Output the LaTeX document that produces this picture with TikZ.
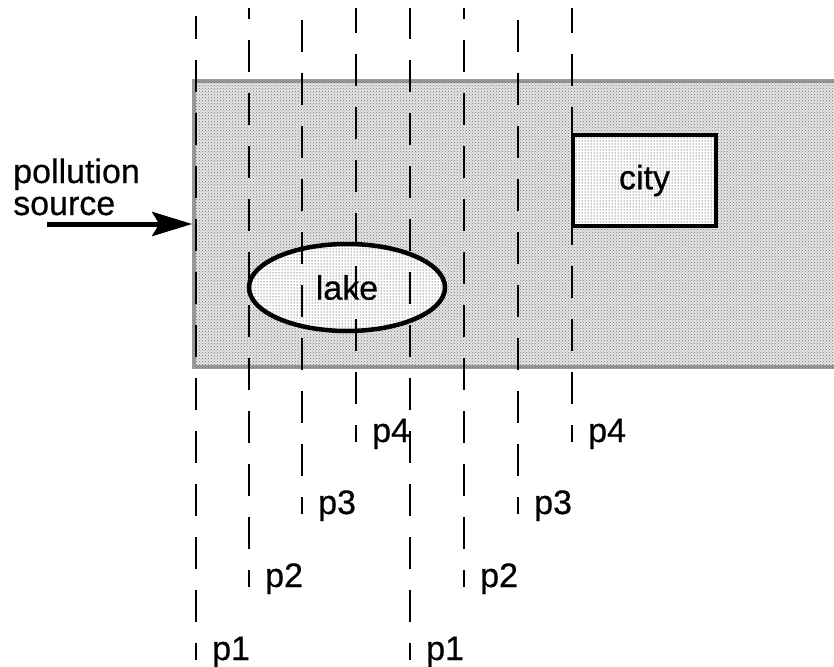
\documentclass[tikz,border=0pt]{standalone}
\usepackage{fontspec}
\setmainfont{Liberation Sans}[UprightFeatures={FakeBold=0.5}]
\usetikzlibrary{arrows.meta,shapes.geometric,patterns}
\begin{document}
\begin{tikzpicture}[x=1pt,y=-1pt,
  lbl/.style={font=\fontsize{34}{34}\selectfont, inner sep=0pt},
  probe/.style={line width=1.4pt, dash pattern=on 32pt off 21pt, dash phase=15pt},
  zone/.style={draw=black, line width=4.5pt, fill=white, font=\fontsize{34}{34}\selectfont,
    postaction={pattern=dots, pattern color=black}},
  band/.style={draw=black!40, line width=3.5pt, fill=black!10,
    postaction={pattern=crosshatch dots, pattern color=black!55}, inner sep=0pt}
]
\clip (0,0) rectangle (834,666);
% strip
\node[band, minimum width=656pt, minimum height=286pt] (strip) at (522,224) {};
% lake and city
\node[zone, ellipse, minimum width=196pt, minimum height=87pt] (lake) at (347,287.5) {lake};
\node[zone, rectangle, minimum width=143pt, minimum height=91pt] (city) at (644.5,180.5) {city};
% probe lines and labels
\foreach \x/\yb/\lab/\yt [count=\i] in {196/660/p1/16, 249/587/p2/8, 302/514/p3/8, 356/442/p4/8,
                                        410/660/p1/8, 464/587/p2/8, 518/514/p3/8, 572/442/p4/8}{
  \coordinate (t\i) at (\x,\yt);
  \coordinate (b\i) at (\x,\yb);
  \draw[probe] (b\i) -- (t\i);
  \node[lbl, anchor=base west] (l\i) at ([xshift=16pt]b\i) {\lab};
}
% pollution source
\node[lbl, anchor=base west] (pol) at (13,183) {pollution};
\node[lbl, anchor=base west] (srcl) at (13,215) {source};
\coordinate (src) at (47,224);
\draw[line width=5pt, -{Stealth[length=40pt,width=24pt,inset=7pt]}] (src) -- (strip.west);
\end{tikzpicture}
\end{document}
